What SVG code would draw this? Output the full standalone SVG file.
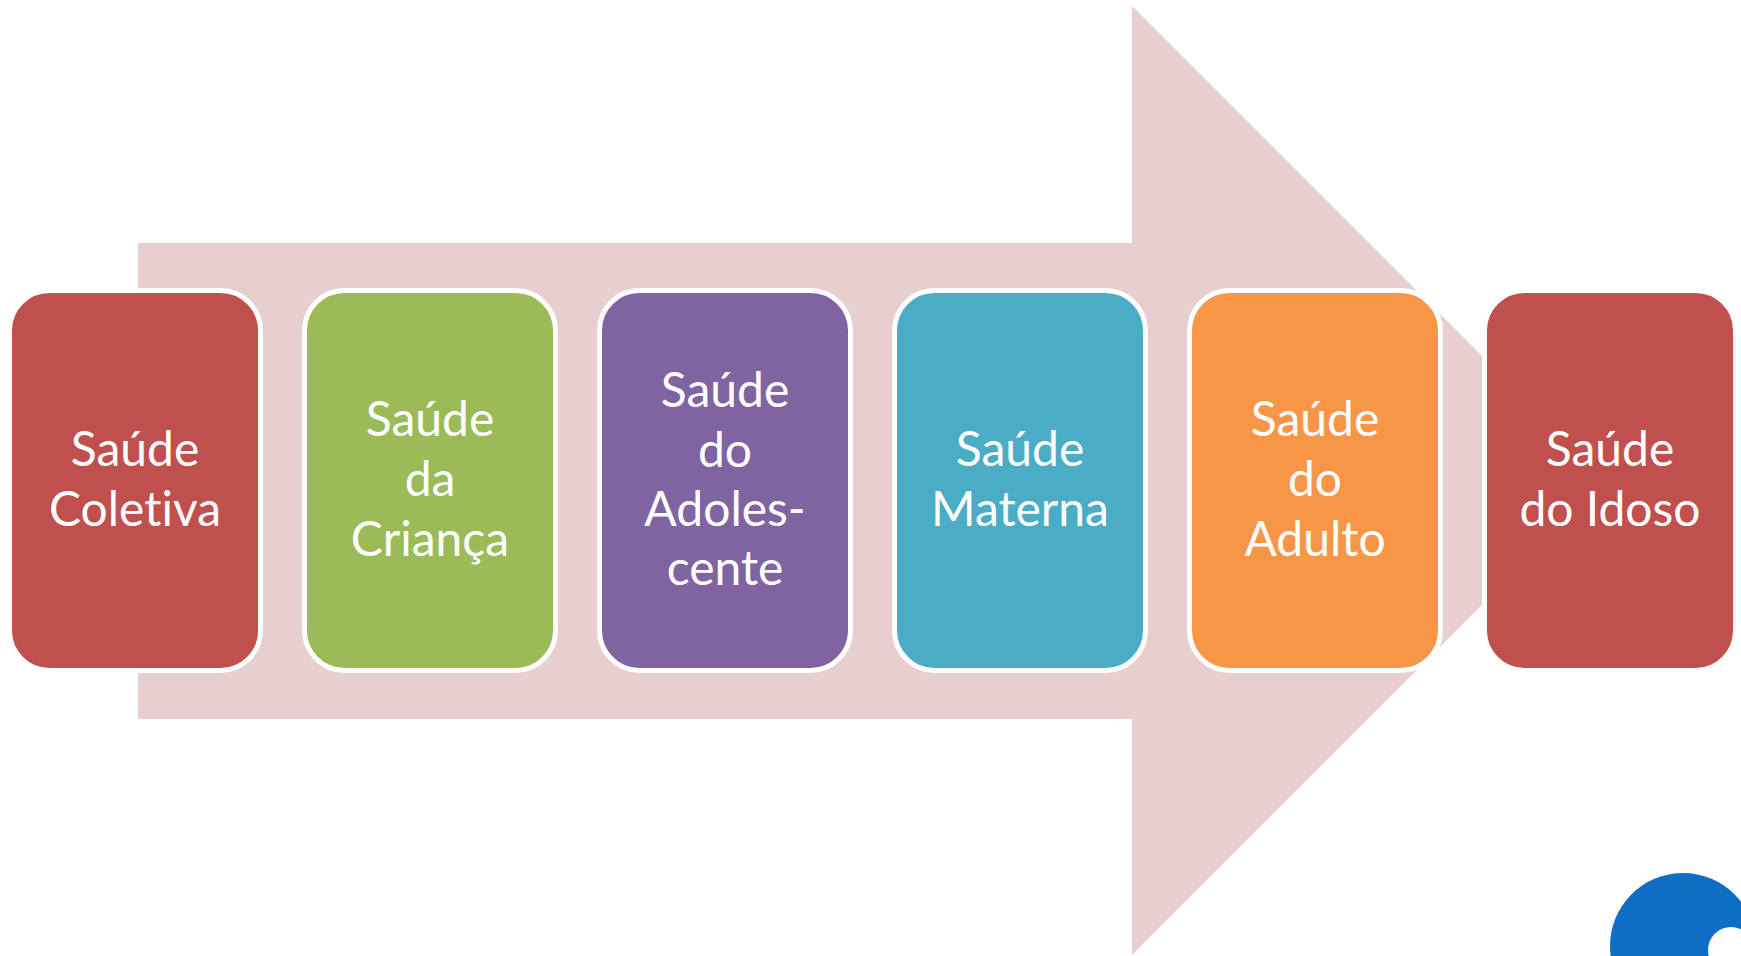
<svg xmlns="http://www.w3.org/2000/svg" width="1741" height="956" viewBox="0 0 1741 956">
<style>
.box{stroke:#FFFFFF;stroke-width:5}
.lbl{font-family:Lato,"Open Sans","Liberation Sans",sans-serif;font-size:48px;fill:#FFFFFF;text-anchor:middle;font-variant-ligatures:none;font-feature-settings:"liga" 0,"clig" 0}
</style>
<rect width="1741" height="956" fill="#FFFFFF"/>
<g id="arrow">
<polygon points="138,243 1132,243 1132,6 1606.5,480.5 1132,955 1132,719 138,719" fill="#E7CFD0"/>
</g>
<g id="connectors"></g>
<g id="n1">
<rect class="box" x="9.5" y="290.5" width="251" height="380" rx="40" fill="#C0504D"/>
<text class="lbl" x="135" y="466">Saúde</text>
<text class="lbl" x="135" y="526">Coletiva</text>
</g>
<g id="n2">
<rect class="box" x="304.5" y="290.5" width="251" height="380" rx="40" fill="#9BBB59"/>
<text class="lbl" x="430" y="436">Saúde</text>
<text class="lbl" x="430" y="496">da</text>
<text class="lbl" x="430" y="556">Criança</text>
</g>
<g id="n3">
<rect class="box" x="599.5" y="290.5" width="251" height="380" rx="40" fill="#8064A2"/>
<text class="lbl" x="725" y="407">Saúde</text>
<text class="lbl" x="725" y="467">do</text>
<text class="lbl" x="725" y="526">Adoles-</text>
<text class="lbl" x="725" y="585">cente</text>
</g>
<g id="n4">
<rect class="box" x="894.5" y="290.5" width="251" height="380" rx="40" fill="#4BACC6"/>
<text class="lbl" x="1020" y="466">Saúde</text>
<text class="lbl" x="1020" y="526">Materna</text>
</g>
<g id="n5">
<rect class="box" x="1189.5" y="290.5" width="251" height="380" rx="40" fill="#F79646"/>
<text class="lbl" x="1315" y="436">Saúde</text>
<text class="lbl" x="1315" y="496">do</text>
<text class="lbl" x="1315" y="556">Adulto</text>
</g>
<g id="n6">
<rect class="box" x="1484.5" y="290.5" width="251" height="380" rx="40" fill="#C0504D"/>
<text class="lbl" x="1610" y="466">Saúde</text>
<text class="lbl" x="1610" y="526">do Idoso</text>
</g>
<g id="logo">
<circle cx="1683" cy="946" r="73" fill="#0D6EC4"/>
<circle cx="1731" cy="950" r="23" fill="#FFFFFF"/>
</g>
</svg>
